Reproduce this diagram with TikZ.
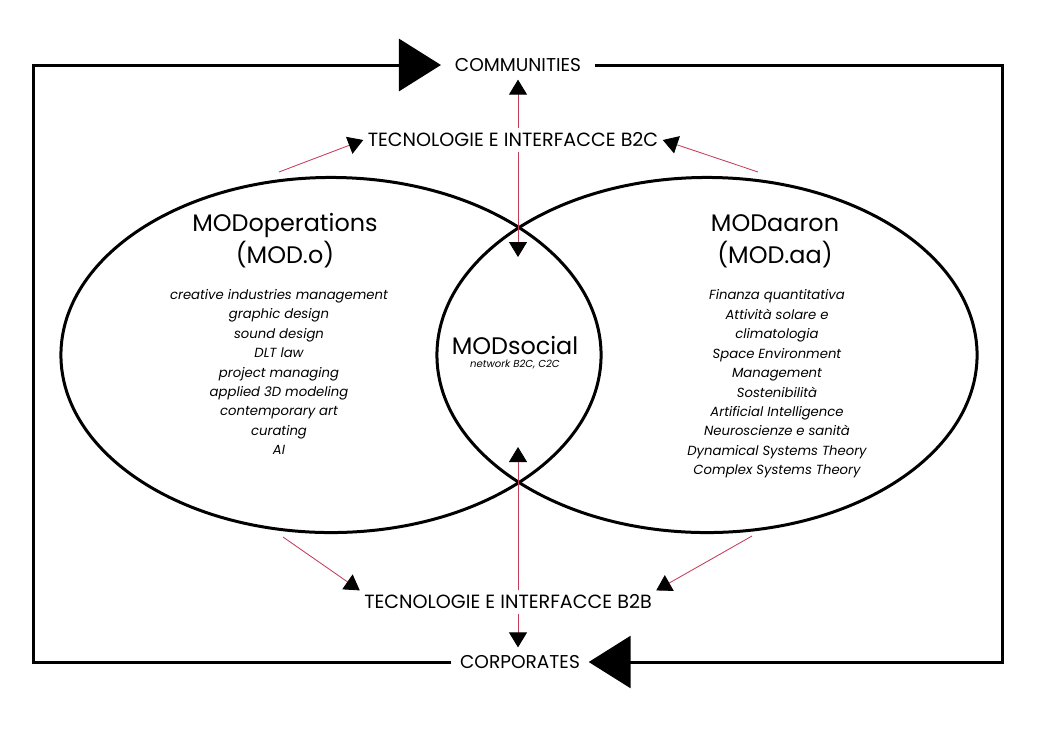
\documentclass[tikz,border=0pt]{standalone}
\usepackage{fontspec}
\setmainfont{Poppins}
\usetikzlibrary{arrows.meta,positioning}
\definecolor{linkred}{RGB}{196,60,88}

\begin{document}
\begin{tikzpicture}[x=0.025cm, y=-0.025cm,
    flow/.style={font=\fontsize{13.2}{15}\selectfont, inner sep=0pt, outer xsep=0.35cm, outer ysep=0.2cm},
    iface/.style={font=\fontsize{13.6}{15}\selectfont, fill=white, inner sep=3pt},
    unit/.style={font=\fontsize{17}{22.7}\selectfont, align=center},
    topics/.style={font=\fontsize{9.4}{13.8}\selectfont\itshape, align=center},
    ring/.style={line width=0.075cm},
    cycle/.style={line width=0.075cm, -{Triangle[length=1.05cm, width=1.3cm]}},
    link/.style={draw=linkred, line width=0.6pt, -{Triangle[length=0.375cm, width=0.45cm, color=black]}}]
    \useasboundingbox (0,0) rectangle (1037,739);

    % the two areas
    \draw[ring] (331,355) ellipse [x radius=6.75cm, y radius=4.4375cm];
    \draw[ring] (707,355) ellipse [x radius=6.75cm, y radius=4.4375cm];

    \node[inner sep=1pt] (social) at (515,345) {\fontsize{17}{20}\selectfont MODsocial};
    \node[font=\fontsize{7.2}{8}\selectfont\itshape, inner sep=1pt, below=1.5pt of social] (socialnote) {network B2C, C2C};

    \node[unit] (ops) at (285,241) {MODoperations\\(MOD.o)};
    \node[topics] (opslist) at (279,372) {creative industries management\\graphic design\\sound design\\DLT law\\project managing\\applied 3D modeling\\contemporary art\\curating\\AI};

    \node[unit] (aaron) at (775,241) {MODaaron\\(MOD.aa)};
    \node[topics] (aaronlist) at (777,384) {Finanza quantitativa\\Attività solare e\\climatologia\\Space Environment\\Management\\Sostenibilità\\Artificial Intelligence\\Neuroscienze e sanità\\Dynamical Systems Theory\\Complex Systems Theory};

    % outer loop
    \node[flow] (comm) at (518,65) {COMMUNITIES};
    \node[flow, outer xsep=0.22cm] (corp) at (520,662) {CORPORATES};
    \coordinate (ne) at (1002,65);
    \coordinate (sw) at (33,662);
    \draw[cycle] (comm.east) -- (ne) |- (corp.east);
    \draw[cycle] (corp.west) -- (sw) |- (comm.west);

    % interfaces
    \node[iface] (b2c) at (513,140) {TECNOLOGIE E INTERFACCE B2C};
    \node[iface] (b2b) at (508,602) {TECNOLOGIE E INTERFACCE B2B};

    \coordinate (lenstop) at (518,257);
    \coordinate (lensbot) at (518,447);
    \coordinate (opsup) at (279,172);
    \coordinate (aaronup) at (758,172);
    \coordinate (opsdown) at (283,537);
    \coordinate (aarondown) at (752,536);

    \draw[link] (b2c.north -| lenstop) -- (comm.south -| lenstop);
    \draw[link] (b2c.south -| lenstop) -- (lenstop);
    \draw[link] (b2b.north -| lensbot) -- (lensbot);
    \draw[link] (b2b.south -| lensbot) -- (corp.north -| lensbot);
    \draw[link] (opsup) -- (b2c.west);
    \draw[link] (aaronup) -- (b2c.east);
    \draw[link] (opsdown) -- (b2b.north west);
    \draw[link] (aarondown) -- (b2b.north east);
\end{tikzpicture}
\end{document}
